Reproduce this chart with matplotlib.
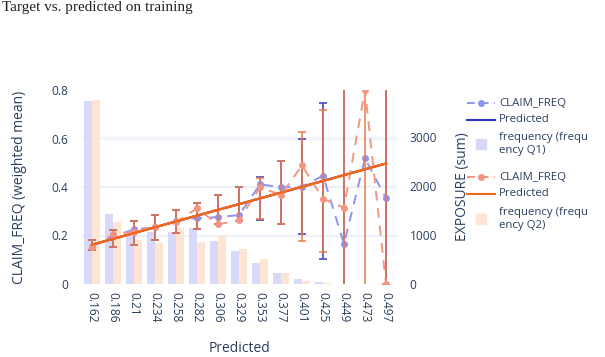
import numpy as np
import matplotlib
matplotlib.use("Agg")
import matplotlib.pyplot as plt
from matplotlib.lines import Line2D
from matplotlib.patches import Rectangle

plt.rcParams["font.family"] = ["Open Sans", "DejaVu Sans"]

# ---- data ----
categories = ["0.162", "0.186", "0.21", "0.234", "0.258", "0.282", "0.306",
              "0.329", "0.353", "0.377", "0.401", "0.425", "0.449", "0.473", "0.497"]
predicted = [0.162, 0.186, 0.210, 0.234, 0.258, 0.282, 0.306,
             0.329, 0.353, 0.377, 0.401, 0.425, 0.449, 0.473, 0.497]

claim_q1 = [0.154, 0.196, 0.225, 0.234, 0.260, 0.271, 0.276,
            0.284, 0.411, 0.399, 0.401, 0.447, 0.165, 0.518, 0.353]
claim_q2 = [0.154, 0.205, 0.215, 0.236, 0.255, 0.312, 0.246,
            0.263, 0.399, 0.367, 0.489, 0.351, 0.315, 0.800, 0.000]

err_q1 = [0.020, 0.035, 0.050, 0.052, 0.048, 0.054, 0.060,
          0.069, 0.090, 0.130, 0.196, 0.320, 2.0, np.nan, 2.0]
err_q2 = [0.020, 0.035, 0.050, 0.052, 0.048, 0.054, 0.060,
          0.069, 0.084, 0.130, 0.225, 0.292, 2.0, 2.0, 0.497]

exposure_q1 = [3733, 1420, 998, 1053, 1065, 1134, 876,
               672, 421, 231, 95, 34, 5, 3, 2]
exposure_q2 = [3747, 1270, 896, 841, 1147, 862, 977,
               706, 503, 217, 68, 27, 4, 3, 2]

# ---- style ----
txt = "#2a3f5f"
grid = "#edf0f7"
blue_dash = "#8f94f3"
blue_pred = "#3333c4"
blue_err = "#5555cc"
blue_bar = "#d8d9f8"
orange_dash = "#f39580"
orange_pred = "#f2661a"
orange_err = "#ec7a48"
orange_bar = "#fde4d3"

fig = plt.figure(figsize=(6.05, 3.57), dpi=100)
ax2 = fig.add_axes([81.5 / 605, 73 / 357, 315 / 605, 194 / 357])
ax = ax2.twinx()
ax2.yaxis.tick_right()
ax2.yaxis.set_label_position("right")
ax.yaxis.tick_left()
ax.yaxis.set_label_position("left")

x = np.arange(len(categories))

# bars on the exposure axis
ax2.bar(x - 0.2, exposure_q1, width=0.4, color=blue_bar, zorder=1)
ax2.bar(x + 0.2, exposure_q2, width=0.4, color=orange_bar, zorder=1)
ax2.set_ylim(0, 3951)
ax2.set_yticks([0, 1000, 2000, 3000])
for v in [1000, 2000, 3000]:
    ax2.axhline(v, color=grid, lw=1, zorder=0)

# lines on the frequency axis
ax.errorbar(x, predicted, yerr=err_q1, color=blue_pred, ecolor=blue_err,
            elinewidth=1.3, capsize=3, capthick=1.3, lw=1.6, zorder=3)
ax.plot(x, claim_q1, color=blue_dash, lw=1.4, dashes=(5, 4),
        marker="o", ms=4, zorder=4)
ax.errorbar(x, predicted, yerr=err_q2, color=orange_pred, ecolor=orange_err,
            elinewidth=1.3, capsize=3, capthick=1.3, lw=1.6, alpha=0.85, zorder=5)
ax.plot(x, claim_q2, color=orange_dash, lw=1.4, dashes=(5, 4),
        marker="o", ms=4, zorder=6)
ax.plot(x, predicted, color=orange_pred, lw=1.6, zorder=7)

ax.set_ylim(0, 0.8)
ax.set_yticks([0, 0.2, 0.4, 0.6, 0.8])
ax.set_yticklabels(["0", "0.2", "0.4", "0.6", "0.8"])
for v in [0.2, 0.4, 0.6]:
    ax2.axhline(v * 3951 / 0.8, color=grid, lw=1, zorder=0)
ax.set_xlim(-0.5, len(categories) - 0.5)
ax2.set_xlim(-0.5, len(categories) - 0.5)
ax2.set_xticks(x)
ax2.set_xticklabels(categories, rotation=-90)

for a in (ax, ax2):
    for s in a.spines.values():
        s.set_visible(False)
    a.tick_params(length=0, colors=txt, labelsize=8.6)
    a.patch.set_visible(False)
ax.tick_params(axis="y", pad=9.5)
ax2.tick_params(axis="y", pad=9.5)
ax2.tick_params(axis="x", pad=6)

ax.set_ylabel("CLAIM_FREQ (weighted mean)", color=txt, fontsize=10)
ax.yaxis.set_label_coords(-0.173, 0.5)
ax2.set_ylabel("EXPOSURE (sum)", color=txt, fontsize=10)
ax2.yaxis.set_label_coords(1.186, 0.5)
ax2.set_xlabel("Predicted", color=txt, fontsize=10)
ax2.xaxis.set_label_coords(0.5, -0.294)

fig.text(0.003, 0.997, "Target vs. predicted on training", family="Liberation Serif",
         fontsize=11, color="#222222", va="top", ha="left")

# legend drawn by hand
def fy(py):
    return 1 - py / 357

x0, x1, xt = 467 / 605, 495 / 605, 499 / 605
items = [
    ("dash", blue_dash, 103, "CLAIM_FREQ"),
    ("line", blue_pred, 120, "Predicted"),
    ("box", blue_bar, 144, "frequency (frequ\nency Q1)"),
    ("dash", orange_dash, 177, "CLAIM_FREQ"),
    ("line", orange_pred, 194, "Predicted"),
    ("box", orange_bar, 219, "frequency (frequ\nency Q2)"),
]
for kind, col, py, label in items:
    if kind == "dash":
        fig.add_artist(Line2D([x0, x1], [fy(py), fy(py)], color=col, lw=1.4,
                              dashes=(4, 3), transform=fig.transFigure))
        fig.add_artist(Line2D([(x0 + x1) / 2], [fy(py)], color=col, marker="o",
                              ms=4, transform=fig.transFigure))
    elif kind == "line":
        fig.add_artist(Line2D([x0, x1], [fy(py), fy(py)], color=col, lw=1.5,
                              transform=fig.transFigure))
    else:
        fig.add_artist(Rectangle(((x0 + x1) / 2 - 5 / 605, fy(py) - 5 / 357),
                                 10 / 605, 10 / 357, color=col,
                                 transform=fig.transFigure))
    fig.text(xt, fy(py), label, fontsize=8.2, color=txt, va="center", ha="left",
             linespacing=1.25)

fig.savefig("out.png", dpi=100)
